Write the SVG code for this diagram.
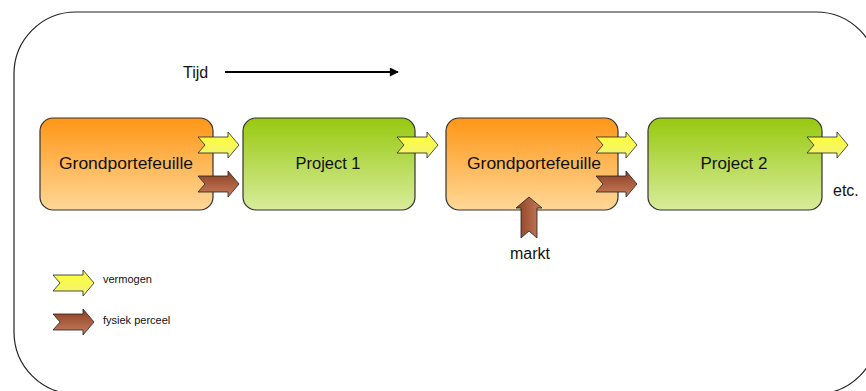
<svg xmlns="http://www.w3.org/2000/svg" width="866" height="391" viewBox="0 0 866 391">
<defs>
<style>
text{font-family:"Liberation Sans",Arial,sans-serif;fill:#111}
.node{stroke:#333;stroke-width:1.2}
.lbl{font-size:16px;text-anchor:middle}
.arr{stroke:#222;stroke-width:0.8}
</style>
<linearGradient id="gOr" x1="0" y1="0" x2="0" y2="1"><stop offset="0" stop-color="#FF9616"/><stop offset="1" stop-color="#FFD898"/></linearGradient>
<linearGradient id="gGr" x1="0" y1="0" x2="0" y2="1"><stop offset="0" stop-color="#97C90F"/><stop offset="1" stop-color="#D8EC9C"/></linearGradient>
<linearGradient id="gYe" x1="0" y1="0" x2="0" y2="1"><stop offset="0" stop-color="#FFFF30"/><stop offset="1" stop-color="#F2F27A"/></linearGradient>
<linearGradient id="gBr" x1="0" y1="0" x2="0" y2="1"><stop offset="0" stop-color="#8E3E22"/><stop offset="1" stop-color="#C67E5E"/></linearGradient>
<path id="ar" d="M0,5 H30 V0 L41,13 L30,26 V21 H0 L7,13 Z"/>
<marker id="mh" viewBox="0 0 10 10" refX="9" refY="5" markerWidth="12" markerHeight="9" markerUnits="userSpaceOnUse" orient="auto"><path d="M0,0 L10,5 L0,10 Z" fill="#000"/></marker>
</defs>
<rect x="14" y="12" width="864" height="382" rx="62" ry="62" fill="#fff" stroke="#222" stroke-width="1.2"/>
<g id="tijd">
<text x="183" y="78" font-size="16px">Tijd</text>
<line x1="225" y1="72" x2="398" y2="72" stroke="#000" stroke-width="2" marker-end="url(#mh)"/>
</g>
<g id="n1"><rect class="node" x="40" y="118" width="173" height="92" rx="13" fill="url(#gOr)"/><text class="lbl" x="126" y="169" textLength="134" lengthAdjust="spacingAndGlyphs">Grondportefeuille</text></g>
<g id="n2"><rect class="node" x="243" y="118" width="172" height="92" rx="13" fill="url(#gGr)"/><text class="lbl" x="328" y="169" textLength="65" lengthAdjust="spacingAndGlyphs">Project 1</text></g>
<g id="n3"><rect class="node" x="446" y="118" width="172" height="92" rx="13" fill="url(#gOr)"/><text class="lbl" x="534" y="169" textLength="134" lengthAdjust="spacingAndGlyphs">Grondportefeuille</text></g>
<g id="n4"><rect class="node" x="648" y="118" width="174" height="92" rx="13" fill="url(#gGr)"/><text class="lbl" x="734" y="169" textLength="67" lengthAdjust="spacingAndGlyphs">Project 2</text></g>
<g id="connectors">
<use href="#ar" class="arr" x="198" y="132" fill="url(#gYe)"/>
<use href="#ar" class="arr" x="198" y="171" fill="url(#gBr)"/>
<use href="#ar" class="arr" x="397" y="132" fill="url(#gYe)"/>
<use href="#ar" class="arr" x="596" y="132" fill="url(#gYe)"/>
<use href="#ar" class="arr" x="596" y="171" fill="url(#gBr)"/>
<use href="#ar" class="arr" x="807" y="132" fill="url(#gYe)"/>
<use href="#ar" class="arr" transform="translate(516,238) rotate(-90)" fill="url(#gBr)"/>
</g>
<text x="530" y="259" font-size="16px" text-anchor="middle">markt</text>
<text x="833" y="196" font-size="16px">etc.</text>
<g id="legend">
<use href="#ar" class="arr" x="53" y="270" fill="url(#gYe)"/>
<text x="103" y="283" font-size="11px">vermogen</text>
<use href="#ar" class="arr" x="53" y="309" fill="url(#gBr)"/>
<text x="103" y="324" font-size="11px">fysiek perceel</text>
</g>
</svg>
